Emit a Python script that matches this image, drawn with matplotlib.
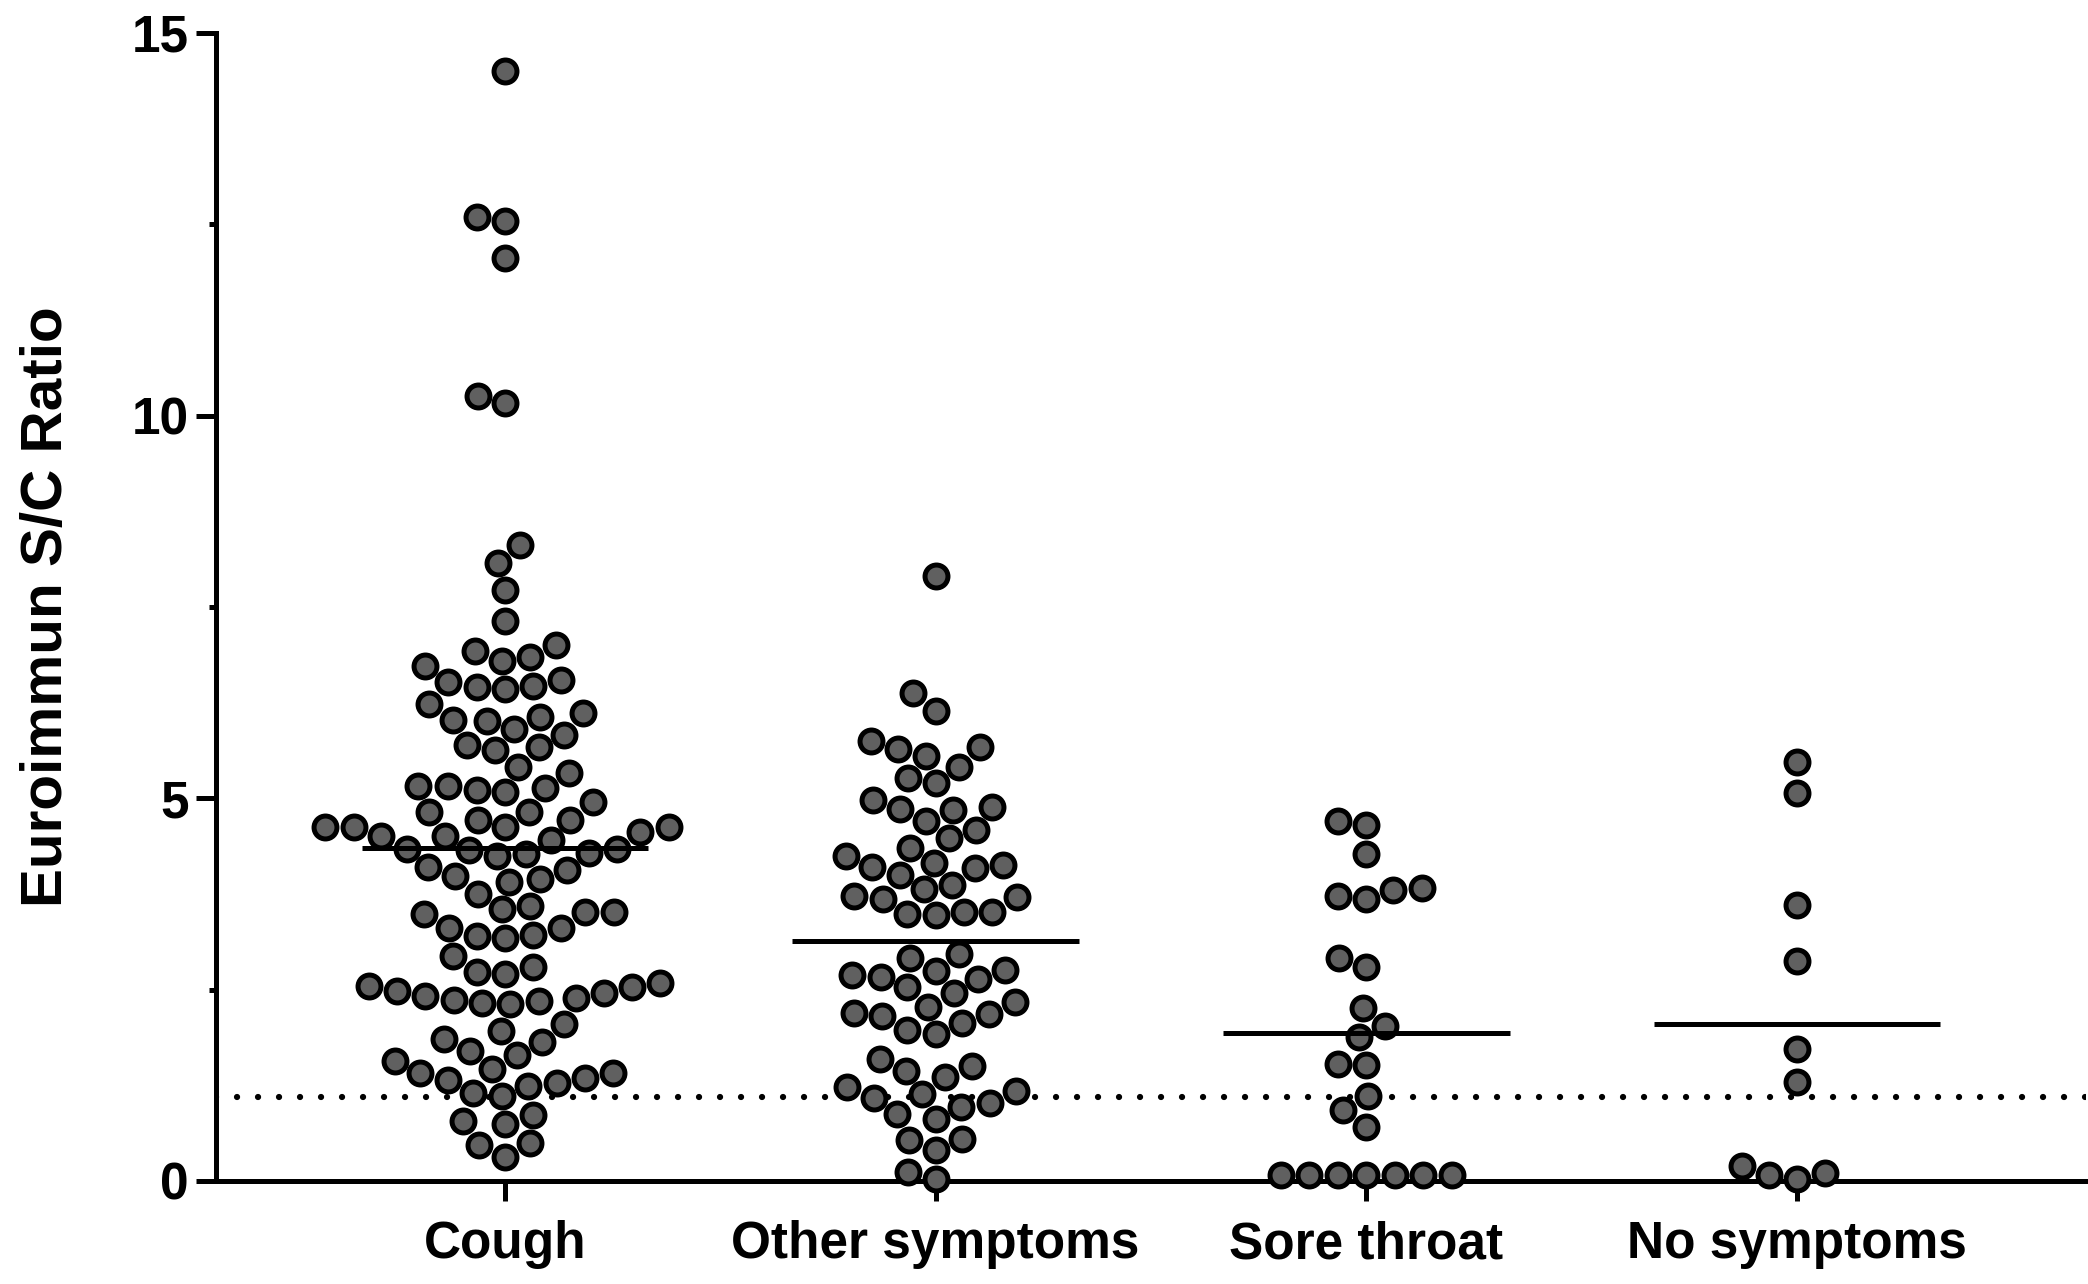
import numpy as np
import matplotlib

matplotlib.use("Agg")
import matplotlib.pyplot as plt

plt.rcParams["font.family"] = ["Liberation Sans", "DejaVu Sans"]
plt.rcParams["font.weight"] = "bold"

categories = ["Cough", "Other symptoms", "Sore throat", "No symptoms"]

cough = [
    14.50, 12.60, 12.54, 12.06, 10.26, 10.16,
    8.31, 8.08, 7.72, 7.32, 7.01, 6.93, 6.80, 6.85, 6.73,
    6.46, 6.55, 6.52, 6.43, 6.47, 6.23, 6.01, 6.06, 6.11, 5.91, 6.02,
    5.83, 5.67, 5.63, 5.70, 5.41, 5.08, 5.16, 5.13, 5.16, 5.33, 5.11, 4.95,
    4.82, 4.82, 4.72, 4.62, 4.72, 4.62, 4.62, 4.51, 4.45, 4.51, 4.56, 4.62,
    4.34, 4.29, 4.25, 4.27, 4.32, 4.34,
    4.10, 3.98, 3.91, 3.75, 3.94, 4.06,
    3.55, 3.51, 3.31, 3.22, 3.18, 3.20, 3.31, 3.49, 3.51, 3.59,
    2.94, 2.79, 2.73,
    2.59, 2.53, 2.46, 2.39, 2.35, 2.31, 2.33, 2.37, 2.42, 2.48, 2.55, 2.70,
    2.05, 1.85, 1.70, 1.65, 1.81, 1.96,
    1.46, 1.41, 1.32, 1.24, 1.28, 1.35, 1.41, 1.57,
    1.11, 1.15,
    0.78, 0.74, 0.86,
    0.49, 0.47, 0.31,
]
other = [
    7.90, 6.37, 6.14, 5.67, 5.55, 5.41, 5.64, 5.75, 5.26, 5.20, 4.89,
    4.85, 4.98, 4.86, 4.71, 4.58, 4.48, 4.35, 4.16, 4.10, 4.00, 4.09,
    4.13, 4.24, 3.81, 3.71, 3.87, 3.73, 3.68, 3.51, 3.49, 3.47, 3.51,
    2.92, 2.97, 2.76, 2.69, 2.64, 2.45, 2.34, 2.53, 2.66, 2.75, 2.28,
    2.18, 2.06, 1.92, 1.97, 2.15, 2.20,
    1.50, 1.44, 1.60, 1.36, 1.17, 1.08, 0.97, 1.02, 1.14, 1.23, 0.87,
    0.81, 0.41, 0.55, 0.53, 0.02, 0.12,
]
sore_throat = [
    4.70, 4.65, 4.27, 3.83, 3.73, 3.68, 3.80, 2.79, 2.91, 2.26, 2.03,
    1.88, 1.52, 1.53, 1.11, 0.93, 0.71,
    0.08, 0.08, 0.08, 0.08, 0.08, 0.08, 0.08,
]
no_symptoms = [5.48, 5.07, 3.61, 2.88, 1.73, 1.30, 0.10, 0.03, 0.08, 0.20]

group_means = [4.35, 3.14, 1.93, 2.05]
cutoff = 1.1

FIG_W, FIG_H = 2088, 1284
X0, X1 = -0.671, 3.671
Y0, Y1 = 0, 15
AX_L, AX_R, AX_T, AX_B = 216, 2086, 33, 1181


def swarm_offsets(values, px_x, px_y, dist):
    """Simple beeswarm: put each point as close to the centre as it can go."""
    order = np.argsort(values, kind="stable")
    placed = []  # (x_px, y_px)
    xs = np.zeros(len(values))
    for i in order:
        y = values[i] * px_y
        cands = [0.0]
        for px, py in placed:
            dy = abs(py - y)
            if dy < dist:
                dx = np.sqrt(dist ** 2 - dy ** 2)
                cands += [px - dx, px + dx]
        cands.sort(key=lambda c: (abs(c), c))
        for c in cands:
            ok = all((c - px) ** 2 + (y - py) ** 2 >= dist ** 2 - 1e-6 for px, py in placed)
            if ok:
                break
        placed.append((c, y))
        xs[i] = c / px_x
    return xs


fig = plt.figure(figsize=(FIG_W / 100, FIG_H / 100), dpi=100)
ax = fig.add_axes([
    AX_L / FIG_W, 1 - AX_B / FIG_H,
    (AX_R - AX_L) / FIG_W, (AX_B - AX_T) / FIG_H,
])
ax.set_xlim(X0, X1)
ax.set_ylim(Y0, Y1)

px_x = (AX_R - AX_L) / (X1 - X0)
px_y = (AX_B - AX_T) / (Y1 - Y0)

ax.plot([X0, X1], [cutoff, cutoff], color="black", lw=4.5,
        linestyle=(0, (0.01, 3.35)), dash_capstyle="round", zorder=1)

for k, vals in enumerate([cough, other, sore_throat, no_symptoms]):
    vals = np.asarray(vals)
    xoff = swarm_offsets(vals, px_x, px_y, 28.5)
    ax.scatter(k + xoff, vals, s=16.5 ** 2, facecolor="#606060",
               edgecolor="black", linewidth=3.6, clip_on=False, zorder=3)
    ax.plot([k - 0.333, k + 0.333], [group_means[k]] * 2, color="black",
            lw=3.6, solid_capstyle="butt", zorder=4)

for side in ["top", "right"]:
    ax.spines[side].set_visible(False)
for side in ["left", "bottom"]:
    ax.spines[side].set_linewidth(3.6)

ax.set_xticks(range(len(categories)))
ax.set_xticklabels(categories, fontsize=37, fontweight="bold")
ax.set_yticks([0, 5, 10, 15])
ax.set_yticks([2.5, 7.5, 12.5], minor=True)
ax.tick_params(axis="both", which="major", length=14.4, width=3.6, labelsize=37)
ax.tick_params(axis="y", which="major", pad=5)
ax.tick_params(axis="x", which="major", pad=14)
ax.tick_params(axis="y", which="minor", length=5, width=3.6)
ax.set_ylabel("Euroimmun S/C Ratio", fontsize=42, fontweight="bold", labelpad=42)

fig.savefig("out.png", dpi=100)
